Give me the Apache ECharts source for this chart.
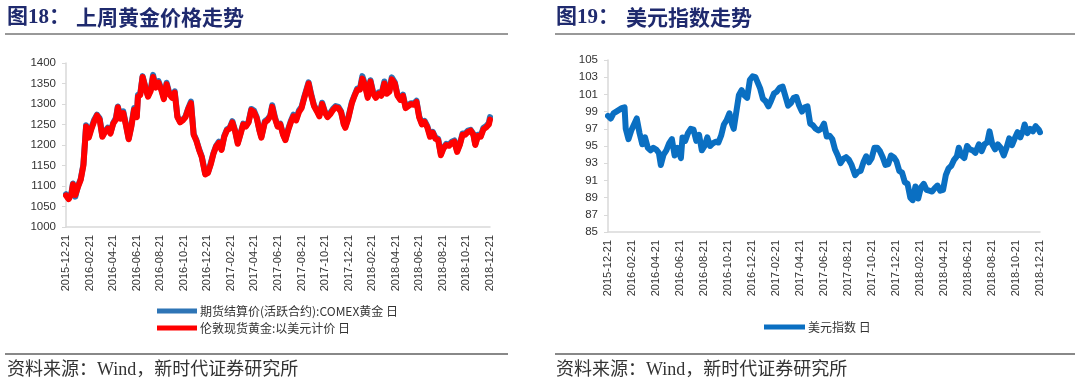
<!DOCTYPE html>
<html><head><meta charset="utf-8">
<script src="https://cdn.jsdelivr.net/npm/echarts@6/dist/echarts.min.js"></script>
<style>html,body{margin:0;padding:0;background:#fff}#c{width:1080px;height:388px}</style>
</head><body><div id="c"></div>
<script>
// ---- Tick labels (every 2 months) ----
const tickLabels = ['2015-12-21','2016-02-21','2016-04-21','2016-06-21','2016-08-21','2016-10-21','2016-12-21','2017-02-21','2017-04-21','2017-06-21','2017-08-21','2017-10-21','2017-12-21','2018-02-21','2018-04-21','2018-06-21','2018-08-21','2018-10-21','2018-12-21'];

// ---- Gold (left chart) ----
const goldDates = ['2015-12-21','2015-12-28','2016-01-04','2016-01-08','2016-01-14','2016-01-21','2016-01-28','2016-02-04','2016-02-11','2016-02-18','2016-02-25','2016-03-03','2016-03-10','2016-03-17','2016-03-24','2016-03-31','2016-04-07','2016-04-14','2016-04-21','2016-04-28','2016-05-03','2016-05-10','2016-05-17','2016-05-24','2016-05-31','2016-06-07','2016-06-14','2016-06-21','2016-06-24','2016-06-30','2016-07-06','2016-07-13','2016-07-20','2016-07-27','2016-08-02','2016-08-09','2016-08-16','2016-08-23','2016-08-30','2016-09-06','2016-09-13','2016-09-20','2016-09-27','2016-10-04','2016-10-11','2016-10-18','2016-10-25','2016-11-01','2016-11-08','2016-11-15','2016-11-22','2016-11-29','2016-12-06','2016-12-15','2016-12-22','2016-12-29','2017-01-05','2017-01-12','2017-01-19','2017-01-26','2017-02-02','2017-02-09','2017-02-16','2017-02-23','2017-03-02','2017-03-09','2017-03-16','2017-03-23','2017-03-30','2017-04-06','2017-04-13','2017-04-20','2017-04-27','2017-05-04','2017-05-09','2017-05-18','2017-05-25','2017-06-01','2017-06-06','2017-06-13','2017-06-20','2017-06-27','2017-07-04','2017-07-10','2017-07-17','2017-07-24','2017-07-31','2017-08-07','2017-08-14','2017-08-21','2017-08-28','2017-09-08','2017-09-15','2017-09-22','2017-09-29','2017-10-06','2017-10-13','2017-10-20','2017-10-27','2017-11-03','2017-11-10','2017-11-17','2017-11-24','2017-12-01','2017-12-08','2017-12-12','2017-12-19','2017-12-29','2018-01-05','2018-01-12','2018-01-19','2018-01-25','2018-02-01','2018-02-08','2018-02-15','2018-02-22','2018-03-01','2018-03-08','2018-03-15','2018-03-23','2018-03-29','2018-04-05','2018-04-11','2018-04-19','2018-04-26','2018-05-03','2018-05-10','2018-05-17','2018-05-24','2018-05-31','2018-06-07','2018-06-14','2018-06-21','2018-06-28','2018-07-05','2018-07-12','2018-07-19','2018-07-26','2018-08-02','2018-08-09','2018-08-16','2018-08-23','2018-08-30','2018-09-06','2018-09-13','2018-09-20','2018-09-27','2018-10-04','2018-10-11','2018-10-18','2018-10-25','2018-11-01','2018-11-08','2018-11-13','2018-11-20','2018-11-27','2018-12-04','2018-12-11','2018-12-14','2018-12-18','2018-12-21'];
const londonSpot = [1077,1068,1080,1104,1078,1098,1115,1150,1245,1218,1240,1258,1272,1262,1220,1232,1240,1228,1252,1262,1292,1264,1278,1248,1214,1245,1286,1268,1318,1322,1366,1340,1318,1332,1366,1340,1352,1335,1312,1348,1324,1315,1328,1268,1255,1260,1268,1288,1302,1225,1210,1188,1170,1128,1132,1152,1178,1196,1205,1188,1220,1236,1240,1255,1234,1203,1226,1250,1245,1255,1285,1280,1265,1235,1218,1255,1260,1270,1293,1265,1245,1250,1225,1212,1235,1255,1270,1260,1280,1290,1315,1350,1320,1295,1283,1270,1300,1280,1268,1275,1285,1292,1290,1280,1250,1242,1262,1302,1320,1335,1335,1362,1345,1315,1355,1325,1315,1325,1320,1350,1325,1330,1360,1350,1320,1310,1320,1290,1295,1300,1298,1305,1267,1250,1256,1243,1220,1230,1215,1212,1175,1192,1200,1198,1205,1208,1183,1200,1225,1225,1232,1235,1225,1200,1222,1220,1238,1243,1240,1250,1262];
const comexFut = [1080,1070,1083,1106,1074,1100,1117,1153,1248,1222,1243,1262,1274,1265,1222,1234,1242,1230,1254,1266,1294,1266,1282,1250,1216,1248,1290,1270,1322,1325,1368,1342,1320,1336,1371,1343,1356,1338,1315,1352,1327,1318,1331,1270,1257,1262,1270,1290,1306,1227,1212,1190,1172,1130,1133,1155,1180,1198,1208,1190,1222,1238,1242,1258,1236,1205,1228,1252,1247,1257,1288,1284,1268,1237,1220,1258,1263,1272,1297,1268,1247,1252,1227,1213,1238,1258,1274,1263,1284,1293,1318,1353,1323,1297,1285,1273,1303,1282,1270,1278,1288,1295,1293,1282,1252,1244,1265,1305,1322,1338,1338,1368,1348,1318,1358,1328,1318,1328,1323,1355,1328,1333,1365,1353,1322,1312,1323,1292,1298,1302,1301,1308,1270,1252,1259,1246,1224,1232,1218,1215,1178,1194,1203,1201,1208,1211,1186,1202,1228,1228,1235,1237,1227,1202,1225,1222,1242,1246,1243,1254,1268];

// ---- US Dollar index (right chart) ----
const dxyDates = ['2015-12-21','2015-12-28','2016-01-04','2016-01-11','2016-01-18','2016-01-25','2016-02-01','2016-02-04','2016-02-11','2016-02-18','2016-02-25','2016-03-03','2016-03-10','2016-03-17','2016-03-24','2016-03-31','2016-04-07','2016-04-14','2016-04-21','2016-04-28','2016-05-03','2016-05-10','2016-05-17','2016-05-24','2016-05-31','2016-06-07','2016-06-14','2016-06-23','2016-06-27','2016-07-04','2016-07-11','2016-07-18','2016-07-25','2016-08-01','2016-08-08','2016-08-15','2016-08-22','2016-08-29','2016-09-05','2016-09-12','2016-09-19','2016-09-26','2016-10-03','2016-10-10','2016-10-17','2016-10-24','2016-10-31','2016-11-04','2016-11-10','2016-11-17','2016-11-24','2016-12-01','2016-12-08','2016-12-15','2016-12-22','2016-12-29','2017-01-03','2017-01-10','2017-01-17','2017-01-24','2017-01-31','2017-02-07','2017-02-14','2017-02-21','2017-03-01','2017-03-08','2017-03-15','2017-03-22','2017-03-29','2017-04-05','2017-04-12','2017-04-19','2017-04-26','2017-05-03','2017-05-10','2017-05-17','2017-05-24','2017-05-31','2017-06-07','2017-06-14','2017-06-21','2017-06-28','2017-07-05','2017-07-12','2017-07-19','2017-07-26','2017-08-02','2017-08-09','2017-08-16','2017-08-23','2017-08-30','2017-09-08','2017-09-15','2017-09-22','2017-09-29','2017-10-06','2017-10-13','2017-10-20','2017-10-27','2017-11-03','2017-11-10','2017-11-17','2017-11-24','2017-12-01','2017-12-08','2017-12-15','2017-12-22','2017-12-29','2018-01-05','2018-01-12','2018-01-19','2018-01-26','2018-02-01','2018-02-08','2018-02-15','2018-02-22','2018-03-01','2018-03-08','2018-03-15','2018-03-22','2018-03-29','2018-04-05','2018-04-12','2018-04-19','2018-04-26','2018-05-03','2018-05-10','2018-05-17','2018-05-24','2018-05-29','2018-06-05','2018-06-12','2018-06-19','2018-06-26','2018-07-03','2018-07-10','2018-07-19','2018-07-26','2018-08-02','2018-08-09','2018-08-15','2018-08-22','2018-08-29','2018-09-05','2018-09-12','2018-09-20','2018-09-27','2018-10-04','2018-10-11','2018-10-18','2018-10-25','2018-11-01','2018-11-08','2018-11-12','2018-11-19','2018-11-26','2018-12-03','2018-12-10','2018-12-14','2018-12-18','2018-12-21'];
const dxyValues = [98.5,98.2,98.8,99.0,99.2,99.4,99.5,97.0,95.8,96.8,97.5,98.2,96.5,95.2,96.0,94.8,94.5,94.8,94.6,94.2,92.8,94.0,94.5,95.3,95.8,93.9,94.8,93.6,96.0,95.6,96.5,97.0,96.9,95.6,96.3,94.5,95.0,96.0,95.0,95.3,95.5,95.4,96.2,97.5,98.0,98.8,97.5,97.0,98.8,100.9,101.5,100.9,100.6,102.7,103.1,103.0,103.2,101.7,100.5,100.2,99.6,100.3,101.1,101.3,101.8,101.9,100.8,99.7,100.0,100.6,100.7,99.7,99.0,99.5,99.6,97.6,97.4,97.0,96.8,97.0,97.6,96.1,96.2,95.8,94.6,93.9,93.0,93.5,93.7,93.4,92.8,91.6,92.0,92.1,93.1,93.8,93.1,93.6,94.8,94.8,94.4,93.7,92.8,92.9,93.9,93.7,93.2,92.1,91.9,90.8,90.6,89.0,88.7,90.3,88.9,90.2,90.6,89.9,89.8,89.7,90.1,90.4,89.8,89.9,91.6,92.4,92.7,93.4,93.8,94.8,93.9,93.6,95.0,94.6,94.5,94.2,95.2,94.4,95.2,95.4,96.7,95.2,94.6,95.2,94.8,93.9,94.8,95.9,95.1,95.9,96.6,96.0,96.8,97.5,96.5,97.0,96.7,97.3,97.5,96.9,96.6];

const goldRange = {min: 1000, max: 1400, interval: 50};
const dxyRange = {min: 85, max: 105, interval: 2};

const pair = (d, v) => d.map((x, i) => [x, v[i]]);
const FS = 'Arial, "Liberation Sans", "Noto Sans CJK SC", sans-serif';
const CJK = '"Noto Sans CJK SC", sans-serif';
const SERIF = '"Liberation Serif", "Times New Roman", "Noto Sans CJK SC", serif';
const axisGray = '#d9d9d9';
const labelColor = '#333';

function timeAxis(grid) {
  return {type: 'time', gridIndex: grid, min: tickLabels[0], max: tickLabels[tickLabels.length - 1],
    position: 'bottom', axisLine: {show: true, lineStyle: {color: axisGray, width: 1.5}},
    axisTick: {show: false}, axisLabel: {show: false}, splitLine: {show: false}};
}
function labelAxis(grid) {
  return {type: 'category', gridIndex: grid, data: tickLabels, boundaryGap: false, position: 'bottom',
    axisLine: {show: false}, axisTick: {show: false}, splitLine: {show: false},
    axisLabel: {rotate: 90, interval: 0, fontSize: 11, color: labelColor, fontFamily: FS, margin: 8}};
}
function valAxis(grid, r) {
  return {type: 'value', gridIndex: grid, min: r.min, max: r.max, interval: r.interval,
    axisLine: {show: true, lineStyle: {color: axisGray, width: 1.5}},
    axisTick: {show: true, inside: false, length: 4, lineStyle: {color: axisGray}},
    splitLine: {show: false},
    axisLabel: {fontSize: 11.5, color: labelColor, fontFamily: FS, margin: 10, formatter: v => String(v)}};
}

const chart = echarts.init(document.getElementById('c'), null, {renderer: 'canvas'});
const titleColor = '#1F2A6E';
chart.setOption({
  animation: false,
  grid: [
    {left: 66, top: 63, width: 424, height: 164},
    {left: 608, top: 60, width: 432, height: 172}
  ],
  xAxis: [timeAxis(0), labelAxis(0), timeAxis(1), labelAxis(1)],
  yAxis: [valAxis(0, goldRange), valAxis(1, dxyRange)],
  legend: [
    {orient: 'vertical', left: 152, top: 300, itemWidth: 40, itemHeight: 5, itemGap: 5, icon: 'rect',
      data: ['期货结算价(活跃合约):COMEX黄金 日', '伦敦现货黄金:以美元计价 日'],
      textStyle: {fontSize: 12, color: labelColor, fontFamily: CJK, padding: [0, 0, 0, -2]}},
    {orient: 'vertical', left: 759, top: 316, itemWidth: 41, itemHeight: 5, icon: 'rect',
      data: ['美元指数 日'],
      textStyle: {fontSize: 12, color: labelColor, fontFamily: CJK, padding: [0, 0, 0, -2]}}
  ],
  series: [
    {name: '期货结算价(活跃合约):COMEX黄金 日', type: 'line', xAxisIndex: 0, yAxisIndex: 0,
      data: pair(goldDates, comexFut), showSymbol: false, color: '#2E75B6',
      lineStyle: {width: 6, color: '#2E75B6', join: 'round', cap: 'round'}},
    {name: '伦敦现货黄金:以美元计价 日', type: 'line', xAxisIndex: 0, yAxisIndex: 0,
      data: pair(goldDates, londonSpot), showSymbol: false, color: '#FF0000',
      lineStyle: {width: 6, color: '#FF0000', join: 'round', cap: 'round'}},
    {name: '美元指数 日', type: 'line', xAxisIndex: 2, yAxisIndex: 1,
      data: pair(dxyDates, dxyValues), showSymbol: false, color: '#0A6FC2',
      lineStyle: {width: 6, color: '#0A6FC2', join: 'round', cap: 'round'}}
  ],
  graphic: [
    {type: 'text', left: 7, top: 7, style: {text: '图18：', font: 'bold 21px ' + SERIF, fill: titleColor}},
    {type: 'text', left: 76, top: 7, style: {text: '上周黄金价格走势', font: 'bold 21px ' + CJK, fill: titleColor}},
    {type: 'text', left: 556, top: 7, style: {text: '图19：', font: 'bold 21px ' + SERIF, fill: titleColor}},
    {type: 'text', left: 626, top: 7, style: {text: '美元指数走势', font: 'bold 21px ' + CJK, fill: titleColor}},
    {type: 'line', shape: {x1: 5, y1: 34, x2: 508, y2: 34}, style: {stroke: '#333', lineWidth: 1}},
    {type: 'line', shape: {x1: 555, y1: 34, x2: 1075, y2: 34}, style: {stroke: '#333', lineWidth: 1}},
    {type: 'line', shape: {x1: 5, y1: 354, x2: 508, y2: 354}, style: {stroke: '#888', lineWidth: 2}},
    {type: 'line', shape: {x1: 555, y1: 354, x2: 1075, y2: 354}, style: {stroke: '#888', lineWidth: 2}},
    {type: 'text', left: 7, top: 361, style: {text: '资料来源：Wind，新时代证券研究所', font: '18px ' + SERIF, fill: '#333'}},
    {type: 'text', left: 556, top: 361, style: {text: '资料来源：Wind，新时代证券研究所', font: '18px ' + SERIF, fill: '#333'}}
  ]
});
</script></body></html>
